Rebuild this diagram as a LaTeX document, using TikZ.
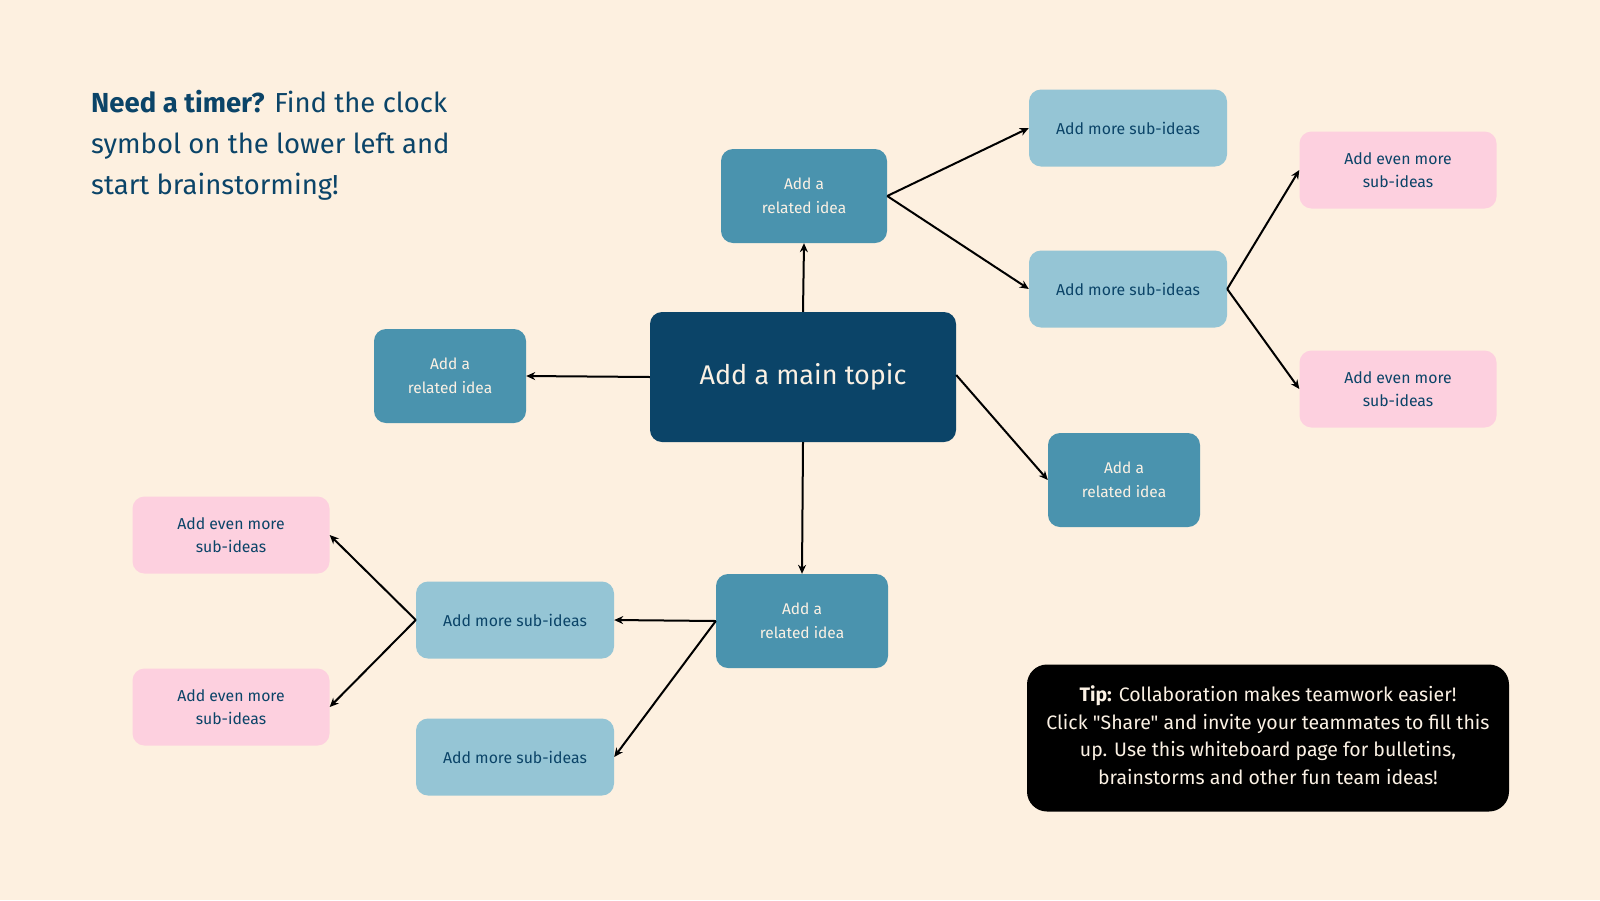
\documentclass[tikz,border=0pt]{standalone}
\usepackage{fontspec}
\setmainfont{Fira Sans}[Ligatures=TeXOff]
\usetikzlibrary{arrows.meta}
\definecolor{bg}{HTML}{FDF0E0}
\definecolor{navy}{HTML}{0B4468}
\definecolor{teal}{HTML}{4A93AE}
\definecolor{skyb}{HTML}{95C5D5}
\definecolor{pinkb}{HTML}{FDD0DF}
\definecolor{cream}{HTML}{FBF1E4}
\tikzset{
  box/.style={rounded corners=12pt, inner sep=0pt, align=center},
  mainbox/.style={box, fill=navy, text=cream, minimum width=306pt, minimum height=130pt, font=\fontsize{27}{32}\selectfont},
  relbox/.style={box, fill=teal, text=cream, minimum width=166pt, minimum height=94pt, font=\fontsize{15.5}{23.5}\selectfont},
  subbox/.style={box, fill=skyb, text=navy, minimum width=198pt, minimum height=77pt, font=\fontsize{15.8}{23.5}\selectfont},
  pinkbox/.style={box, fill=pinkb, text=navy, minimum width=197pt, minimum height=77pt, font=\fontsize{15.8}{23.5}\selectfont},
  conn/.style={draw=black, line width=2pt, -{Stealth[length=9pt,width=8pt]}}
}
\begin{document}
\begin{tikzpicture}[x=1pt,y=-1pt]
\fill[bg] (0,0) rectangle (1600,900);
\useasboundingbox (0,0) rectangle (1600,900);

\node[anchor=north west, text=navy, align=left, inner sep=0pt, font=\fontsize{27.5}{41}\selectfont] (title) at (91,90)
  {\textbf{Need a timer?} Find the clock\\symbol on the lower left and\\start brainstorming!};

\node[mainbox] (main) at (803,377) {Add a main topic};
\node[relbox] (rtop) at (804,196) {Add a\\related idea};
\node[relbox, minimum width=152pt] (rleft) at (450,376) {Add a\\related idea};
\node[relbox, minimum width=152pt] (rright) at (1124,480) {Add a\\related idea};
\node[relbox, minimum width=172pt] (rbot) at (802,621) {Add a\\related idea};

\node[subbox] (s1) at (1128,128) {Add more sub-ideas};
\node[subbox] (s2) at (1128,289) {Add more sub-ideas};
\node[pinkbox] (p1) at (1398,170) {Add even more\\sub-ideas};
\node[pinkbox] (p2) at (1398,389) {Add even more\\sub-ideas};

\node[subbox] (s3) at (515,620) {Add more sub-ideas};
\node[subbox] (s4) at (515,757) {Add more sub-ideas};
\node[pinkbox] (p3) at (231,535) {Add even more\\sub-ideas};
\node[pinkbox] (p4) at (231,707) {Add even more\\sub-ideas};

\node[box, fill=black, minimum width=482pt, minimum height=147pt, rounded corners=20pt] (tipbox) at (1268,738) {};
\node[align=center, inner sep=0pt, text=cream, font=\fontsize{19.5}{27.5}\selectfont] (tip) at (1268,735)
  {\textbf{Tip:} Collaboration makes teamwork easier!\\Click "Share" and invite your teammates to fill this\\up. Use this whiteboard page for bulletins,\\brainstorms and other fun team ideas!};

\draw[conn] (main.north) -- (rtop.south);
\draw[conn] (main.west) -- (rleft.east);
\draw[conn] (main.south) -- (rbot.north);
\draw[conn] ([yshift=2pt]main.east) -- (rright.west);
\draw[conn] (rtop.east) -- (s1.west);
\draw[conn] (rtop.east) -- (s2.west);
\draw[conn] (s2.east) -- (p1.west);
\draw[conn] (s2.east) -- (p2.west);
\draw[conn] (rbot.west) -- (s3.east);
\draw[conn] (rbot.west) -- (s4.east);
\draw[conn] (s3.west) -- (p3.east);
\draw[conn] (s3.west) -- (p4.east);
\end{tikzpicture}
\end{document}
